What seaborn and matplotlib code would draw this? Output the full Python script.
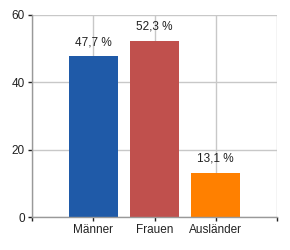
import matplotlib
matplotlib.use("Agg")
import matplotlib.pyplot as plt
import seaborn as sns
import pandas as pd

categories = ["Männer", "Frauen", "Ausländer"]
values = [47.7, 52.3, 13.1]
labels = ["47,7 %", "52,3 %", "13,1 %"]
colors = ["#1f5aa8", "#c0504d", "#ff8000"]
yticks = [0, 20, 40, 60]

sns.set_style("white", {"xtick.bottom": True, "ytick.left": True})
plt.rcParams["font.family"] = ["Liberation Sans", "DejaVu Sans"]

df = pd.DataFrame({"cat": categories, "val": values})
fig = plt.figure(figsize=(2.9, 2.5), dpi=100)
ax = fig.add_axes([32/290, 1-217/250, 245/290, 202/250])
sns.barplot(data=df, x="cat", y="val", hue="cat", palette=colors, width=0.8,
            saturation=1, legend=False, ax=ax, zorder=3, edgecolor="none", linewidth=0)
ax.set_xlim(-1, 3)
ax.set_ylim(0, 60)
ax.set_xticks([-1, 0, 1, 2, 3])
ax.set_xticklabels([""] + categories + [""])
ax.set_yticks(yticks)
ax.set_xlabel("")
ax.set_ylabel("")
ax.grid(True, color="#c8c8c8", linewidth=1, zorder=0)
for s in ["top", "right"]:
    ax.spines[s].set_visible(False)
for s in ["left", "bottom"]:
    ax.spines[s].set_color("#999999")
    ax.spines[s].set_linewidth(1)
    ax.spines[s].set_zorder(4)
ax.tick_params(axis="both", direction="out", length=3, width=1, color="#222222",
               labelsize=8.5, pad=2, labelcolor="#222222", bottom=True, left=True)
for i, (v, t) in enumerate(zip(values, labels)):
    ax.annotate(t, (i, v), xytext=(0, 6), textcoords="offset points",
                ha="center", va="bottom", fontsize=8.5, color="#222222", zorder=5)
fig.savefig("out.png", dpi=100)
